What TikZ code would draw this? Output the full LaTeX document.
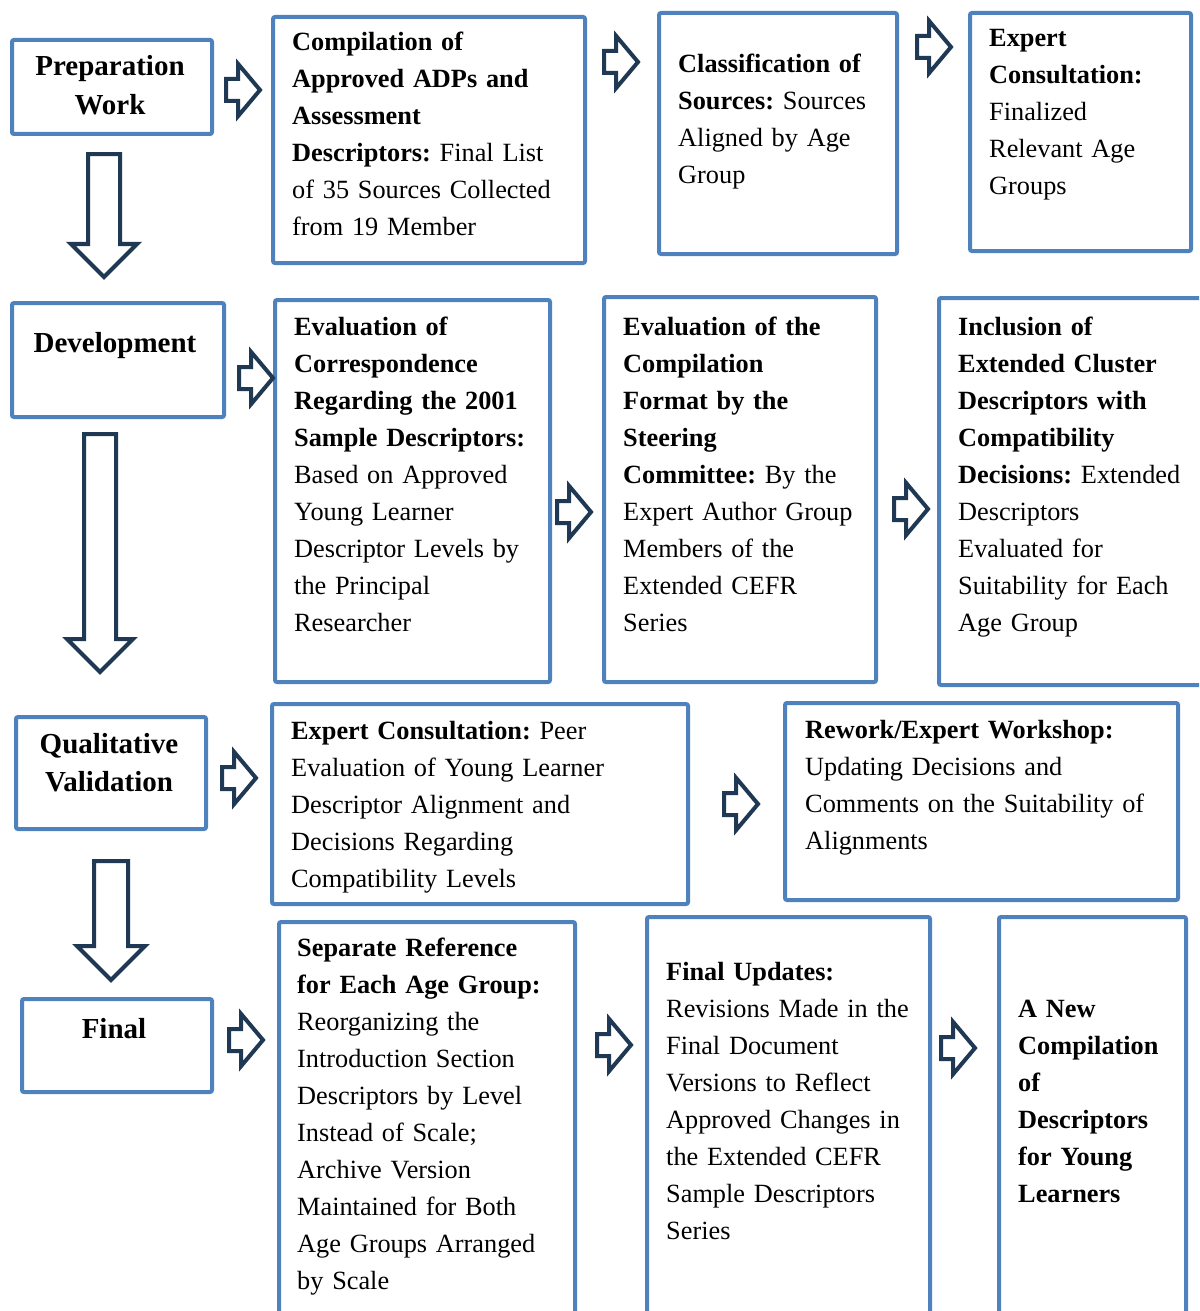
\documentclass[tikz,border=0pt]{standalone}
\usepackage{fontspec}
\setmainfont{Liberation Serif}
\usetikzlibrary{shapes.arrows}
\definecolor{boxblue}{HTML}{4F81BD}
\definecolor{navy}{HTML}{1F3853}

\begin{document}
\frenchspacing
\begin{tikzpicture}[
			x=1pt, y=-1pt,
			box/.style={draw=boxblue, line width=4pt, rounded corners=2pt, fill=white,
				inner sep=0pt, anchor=north west},
			txt/.style={anchor=base west, inner sep=0pt, align=left, text width=420pt,
				font=\fontsize{26.3}{37}\selectfont},
			head/.style={anchor=base, inner sep=0pt, align=center, text width=200pt,
				font=\fontsize{29}{38.5}\selectfont\bfseries},
			rarr/.style={single arrow, draw=navy, line width=4pt, fill=white, anchor=tail,
				inner xsep=0pt, inner ysep=9pt, minimum height=34pt,
				single arrow head extend=15pt, single arrow tip angle=100},
			darr/.style={single arrow, draw=navy, line width=4pt, fill=white, anchor=tail,
				inner xsep=0pt, inner ysep=14pt, single arrow head extend=17pt, rotate=-90}
			]
			\useasboundingbox (0,0) rectangle (1199,1311);
			\clip (0,0) rectangle (1199,1311);

			% stages
			\node[box, minimum width=200pt, minimum height=94pt] (prep) at (10,38) {};
			\node[box, minimum width=212pt, minimum height=114pt] (devel) at (10,301) {};
			\node[box, minimum width=190pt, minimum height=112pt] (qual) at (14,715) {};
			\node[box, minimum width=190pt, minimum height=93pt] (final) at (20,997) {};
			\node[head] (prep-t) at (110,76) {Preparation\\Work};
			\node[head] (devel-t) at (115,352) {Development};
			\node[head] (qual-t) at (109,753) {Qualitative\\Validation};
			\node[head] (final-t) at (114,1038) {Final};

			% steps
			\node[box, minimum width=312pt, minimum height=246pt] (compil) at (271,15) {};
			\node[box, minimum width=238pt, minimum height=241pt] (classif) at (657,11) {};
			\node[box, minimum width=221pt, minimum height=238pt] (expcons) at (968,11) {};
			\node[box, minimum width=275pt, minimum height=382pt] (corresp) at (273,298) {};
			\node[box, minimum width=272pt, minimum height=385pt] (format) at (602,295) {};
			\node[box, minimum width=290pt, minimum height=387pt] (incl) at (937,296) {};
			\node[box, minimum width=416pt, minimum height=200pt] (peer) at (270,702) {};
			\node[box, minimum width=393pt, minimum height=197pt] (rework) at (783,701) {};
			\node[box, minimum width=296pt, minimum height=420pt] (separate) at (277,920) {};
			\node[box, minimum width=283pt, minimum height=420pt] (updates) at (645,915) {};
			\node[box, minimum width=187pt, minimum height=420pt] (newcomp) at (997,915) {};

			\node[txt] (compil-t) at (292,51) {\textbf{Compilation of}\\\textbf{Approved ADPs and}\\
				\textbf{Assessment}\\\textbf{Descriptors:} Final List\\of 35 Sources Collected\\from 19 Member};
			\node[txt] (classif-t) at (678,73) {\textbf{Classification of}\\\textbf{Sources:} Sources\\
				Aligned by Age\\Group};
			\node[txt] (expcons-t) at (989,47) {\textbf{Expert}\\\textbf{Consultation:}\\Finalized\\
				Relevant Age\\Groups};
			\node[txt] (corresp-t) at (294,335) {\textbf{Evaluation of}\\\textbf{Correspondence}\\
				\textbf{Regarding the 2001}\\\textbf{Sample Descriptors:}\\Based on Approved\\
				Young Learner\\Descriptor Levels by\\the Principal\\Researcher};
			\node[txt] (format-t) at (623,335) {\textbf{Evaluation of the}\\\textbf{Compilation}\\
				\textbf{Format by the}\\\textbf{Steering}\\\textbf{Committee:} By the\\
				Expert Author Group\\Members of the\\Extended CEFR\\Series};
			\node[txt] (incl-t) at (958,335) {\textbf{Inclusion of}\\\textbf{Extended Cluster}\\
				\textbf{Descriptors with}\\\textbf{Compatibility}\\\textbf{Decisions:} Extended\\
				Descriptors\\Evaluated for\\Suitability for Each\\Age Group};
			\node[txt] (peer-t) at (291,739) {\textbf{Expert Consultation:} Peer\\
				Evaluation of Young Learner\\Descriptor Alignment and\\Decisions Regarding\\
				Compatibility Levels};
			\node[txt] (rework-t) at (805,738) {\textbf{Rework/Expert Workshop:}\\
				Updating Decisions and\\Comments on the Suitability of\\Alignments};
			\node[txt] (separate-t) at (297,956) {\textbf{Separate Reference}\\\textbf{for Each Age Group:}\\
				Reorganizing the\\Introduction Section\\Descriptors by Level\\Instead of Scale;\\
				Archive Version\\Maintained for Both\\Age Groups Arranged\\by Scale};
			\node[txt] (updates-t) at (666,980) {\textbf{Final Updates:}\\Revisions Made in the\\
				Final Document\\Versions to Reflect\\Approved Changes in\\the Extended CEFR\\
				Sample Descriptors\\Series};
			\node[txt] (newcomp-t) at (1018,1017) {\textbf{A New}\\\textbf{Compilation}\\\textbf{of}\\
				\textbf{Descriptors}\\\textbf{for Young}\\\textbf{Learners}};

			% block arrows (placed by their tails)
			\node[rarr] (prep-compil) at (224,90) {};
			\node[rarr] (compil-classif) at (602,62) {};
			\node[rarr] (classif-expcons) at (915,47) {};
			\node[rarr] (devel-corresp) at (237,378) {};
			\node[rarr] (corresp-format) at (555,512) {};
			\node[rarr] (format-incl) at (892,509) {};
			\node[rarr] (qual-peer) at (220,778) {};
			\node[rarr] (peer-rework) at (722,804) {};
			\node[rarr] (final-separate) at (227,1040) {};
			\node[rarr] (separate-updates) at (595,1045) {};
			\node[rarr] (updates-newcomp) at (939,1048) {};

			\node[darr, minimum height=123pt] (prep-devel) at (104,152) {};
			\node[darr, minimum height=238pt] (devel-qual) at (100,432) {};
			\node[darr, minimum height=119pt, inner ysep=15pt] (qual-final) at (111,859) {};
		\end{tikzpicture}
\end{document}
